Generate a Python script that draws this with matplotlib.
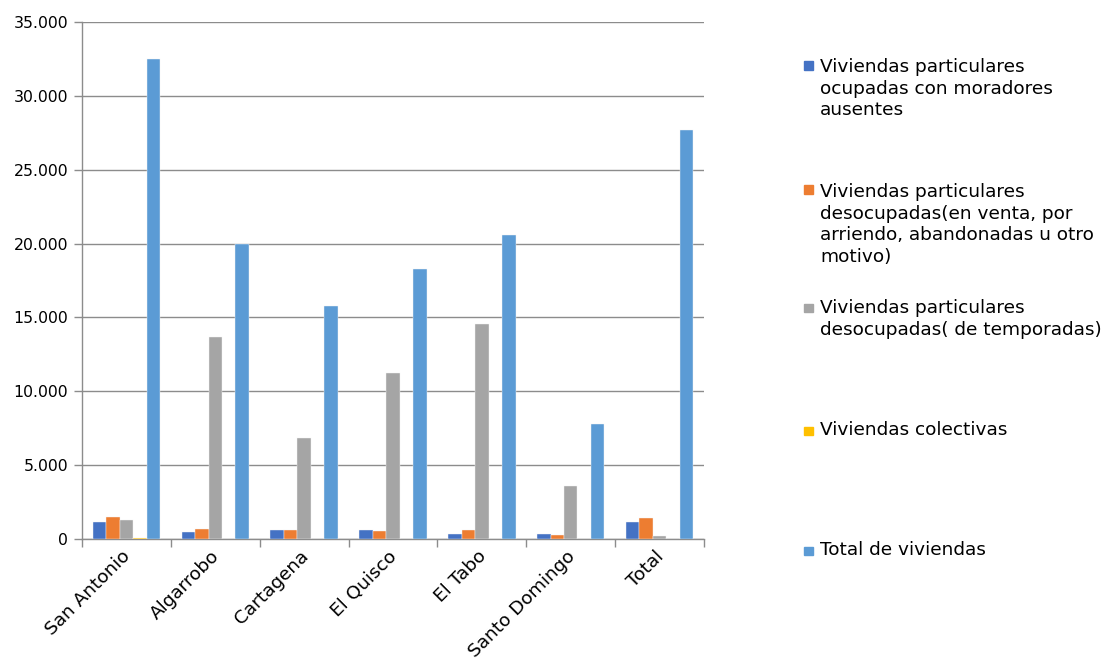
import matplotlib
matplotlib.use("Agg")
import matplotlib.pyplot as plt
import matplotlib.transforms as mtransforms
import numpy as np
from matplotlib.patches import Rectangle
from matplotlib.ticker import FuncFormatter, MultipleLocator

plt.rcParams['font.family'] = ['DejaVu Sans']

comunas = ["San Antonio", "Algarrobo", "Cartagena", "El Quisco", "El Tabo",
           "Santo Domingo", "Total"]

moradores_ausentes = [1150, 480, 610, 610, 340, 320, 1170]
desocupadas_venta = [1490, 700, 610, 520, 590, 250, 1420]
desocupadas_temporada = [1290, 13700, 6830, 11210, 14530, 3590, 180]
colectivas = [90, 10, 10, 10, 10, 10, 20]
total_viviendas = [32500, 19950, 15760, 18270, 20570, 7780, 27670]

series_labels = [
    "Viviendas particulares\nocupadas con moradores\nausentes",
    "Viviendas particulares\ndesocupadas(en venta, por\narriendo, abandonadas u otro\nmotivo)",
    "Viviendas particulares\ndesocupadas( de temporadas)",
    "Viviendas colectivas",
    "Total de viviendas",
]
series_values = [moradores_ausentes, desocupadas_venta, desocupadas_temporada,
                 colectivas, total_viviendas]
colors = ["#4472C4", "#ED7D31", "#A5A5A5", "#FFC000", "#5B9BD5"]

W, H = 1107, 662
fig = plt.figure(figsize=(W / 100, H / 100), dpi=100)
ax = fig.add_axes([82 / W, (H - 539) / H, (704 - 82) / W, (539 - 22) / H])

x = np.arange(len(comunas))
bar_w = 1 / (5 + 1.6)
containers = []
for i, (vals, col) in enumerate(zip(series_values, colors)):
    c = ax.bar(x + (i - 2) * bar_w, vals, width=bar_w, color=col,
               edgecolor="#f4f4f4", linewidth=0.3, zorder=3)
    containers.append(c)

ax.set_xlim(-0.5, len(comunas) - 0.5)
ax.set_ylim(0, 35000)
ax.yaxis.set_major_locator(MultipleLocator(5000))
ax.yaxis.set_major_formatter(FuncFormatter(lambda v, p: f"{int(v):,}".replace(",", ".")))
ax.grid(axis="y", color="#8c8c8c", linewidth=1.0, zorder=0)

for s in ["top", "right"]:
    ax.spines[s].set_visible(False)
for s in ["left", "bottom"]:
    ax.spines[s].set_color("#8c8c8c")
    ax.spines[s].set_linewidth(1.0)

ax.tick_params(axis="y", length=6, color="#8c8c8c", width=1.0,
               labelsize=11.3, pad=4)
ax.set_xticks(x)
ax.set_xticks(np.arange(len(comunas) + 1) - 0.5, minor=True)
ax.tick_params(axis="x", which="major", length=0, pad=6)
ax.tick_params(axis="x", which="minor", length=6, color="#8c8c8c", width=1.0)
ax.set_xticklabels(comunas, rotation=45, ha="right", va="top",
                   rotation_mode="anchor", fontsize=13.3)
shift = mtransforms.ScaledTranslation(-5 / 100, 0, fig.dpi_scale_trans)
for lbl in ax.get_xticklabels():
    lbl.set_transform(lbl.get_transform() + shift)

# legend entries stacked on the right; marker sits on the first text line
baselines = [70, 194, 312, 435, 555]
pitch = 22.7
for cont, label, base in zip(containers, series_labels, baselines):
    col = cont.patches[0].get_facecolor()
    fig.add_artist(Rectangle((804 / W, (H - base) / H), 9 / W, 8.5 / H,
                             transform=fig.transFigure, color=col))
    nlines = label.count("\n") + 1
    last_base = base + (nlines - 1) * pitch
    fig.text(820 / W, (H - last_base) / H, label, fontsize=13.3,
             ha="left", va="baseline", linespacing=1.27)

fig.savefig("out.png", dpi=100)
